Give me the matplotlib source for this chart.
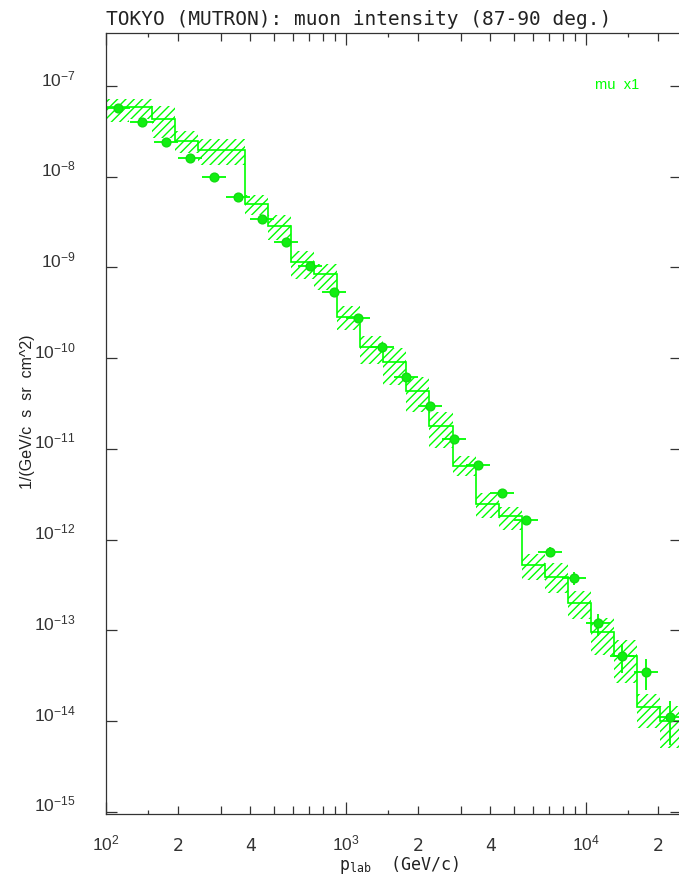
import numpy as np
import matplotlib
matplotlib.use("Agg")
import matplotlib.pyplot as plt
from matplotlib.ticker import NullLocator

plt.rcParams['mathtext.fontset'] = 'custom'
plt.rcParams['mathtext.rm'] = 'Liberation Sans'
plt.rcParams['mathtext.it'] = 'Liberation Sans:italic'
plt.rcParams['mathtext.bf'] = 'Liberation Sans:bold'
plt.rcParams['hatch.linewidth'] = 1.0

GREEN = '#00ff00'
INK = '#333333'

# measured points: momentum bins (GeV/c), bin centres, intensity, relative error
p_edges = [100, 125.9, 158.5, 199.5, 251.2, 316.2, 398.1, 501.2, 631.0, 794.3,
           1000, 1259, 1585, 1995, 2512, 3162, 3981, 5012, 6310, 7943,
           10000, 12589, 15849, 19953, 25119]
p_mid = [112.2, 141.3, 177.8, 223.9, 281.8, 354.8, 446.7, 562.3, 707.9, 891.3,
         1122, 1413, 1778, 2239, 2818, 3548, 4467, 5623, 7079, 8913,
         11220, 14125, 17783, 22387]
intensity = [5.77e-8, 4.04e-8, 2.43e-8, 1.61e-8, 1.0e-8, 5.93e-9, 3.39e-9, 1.89e-9,
             1.04e-9, 5.35e-10, 2.75e-10, 1.32e-10, 6.24e-11, 2.96e-11, 1.28e-11,
             6.62e-12, 3.28e-12, 1.64e-12, 7.34e-13, 3.79e-13, 1.19e-13, 5.2e-14,
             3.49e-14, 1.10e-14]
rel_err = [0.05, 0.05, 0.05, 0.05, 0.05, 0.05, 0.05, 0.05, 0.05, 0.05, 0.05, 0.05,
           0.05, 0.05, 0.05, 0.05, 0.05, 0.08, 0.12, 0.16, 0.27, 0.35, 0.37, 0.5]

# model histogram with uncertainty band
h_edges = [100, 124.8, 155.8, 194.4, 242.7, 302.9, 378.1, 471.9, 589.0, 735.1,
           917.6, 1145, 1429, 1784, 2227, 2779, 3469, 4330, 5404, 6745,
           8419, 10508, 13115, 16370, 20432, 25502]
h_val = [5.92e-8, 5.92e-8, 4.30e-8, 2.49e-8, 1.97e-8, 1.97e-8, 5.0e-9, 2.88e-9,
         1.14e-9, 8.39e-10, 2.86e-10, 1.32e-10, 8.99e-11, 4.34e-11, 1.80e-11,
         6.52e-12, 2.46e-12, 1.82e-12, 5.24e-13, 3.89e-13, 2.0e-13, 9.62e-14,
         5.15e-14, 1.41e-14, 1.00e-14]
h_hi = [7.13e-8, 7.19e-8, 6.02e-8, 3.19e-8, 2.58e-8, 2.58e-8, 6.28e-9, 3.78e-9,
        1.52e-9, 1.09e-9, 3.75e-10, 1.74e-10, 1.29e-10, 6.24e-11, 2.56e-11,
        8.34e-12, 3.26e-12, 2.30e-12, 6.92e-13, 5.51e-13, 2.70e-13, 1.36e-13,
        7.80e-14, 1.98e-14, 1.46e-14]
h_lo = [4.04e-8, 4.33e-8, 2.65e-8, 1.81e-8, 1.35e-8, 1.35e-8, 3.78e-9, 2.0e-9,
        7.45e-10, 5.63e-10, 2.04e-10, 8.61e-11, 5.05e-11, 2.56e-11, 1.01e-11,
        5.01e-12, 1.73e-12, 1.27e-12, 3.57e-13, 2.57e-13, 1.32e-13, 5.32e-14,
        2.62e-14, 8.36e-15, 5.02e-15]

x_major = [100, 1000, 10000]
x_major_labels = ['$10^2$', '$10^3$', '$10^4$']
x_minor = [150, 200, 300, 400, 500, 600, 700, 800, 900,
           1500, 2000, 3000, 4000, 5000, 6000, 7000, 8000, 9000,
           15000, 20000]
x_minor_labels = ['', '2', '', '4', '', '', '', '', '',
                  '', '2', '', '4', '', '', '', '', '',
                  '', '2']
y_major = [1e-15, 1e-14, 1e-13, 1e-12, 1e-11, 1e-10, 1e-9, 1e-8, 1e-7]
y_major_labels = ['$10^{-15}$', '$10^{-14}$', '$10^{-13}$', '$10^{-12}$', '$10^{-11}$',
                  '$10^{-10}$', '$10^{-9}$', '$10^{-8}$', '$10^{-7}$']

fig = plt.figure(figsize=(6.79, 8.86), dpi=100)
ax = fig.add_axes([106/679, 72/886, 575/679, 781/886])
ax.set_xscale('log')
ax.set_yscale('log')

# band + histogram
ax.stairs(h_hi, h_edges, baseline=h_lo, fill=True, facecolor='none',
          edgecolor=GREEN, hatch='////', linewidth=0)
ax.stairs(h_val, h_edges, baseline=None, color=GREEN, linewidth=1.2)

# data points
mid = np.array(p_mid)
edges = np.array(p_edges)
y = np.array(intensity)
xerr = [mid - edges[:-1], edges[1:] - mid]
ax.errorbar(mid, y, xerr=xerr, yerr=y * np.array(rel_err), fmt='o', color=GREEN,
            mfc='#11ee11', mec='#11dd11', ms=6.3, elinewidth=1.3, capsize=0)

ax.set_xlim(100, 24880)
ax.set_ylim(9.43e-16, 3.84e-7)

for s in ax.spines.values():
    s.set_color(INK)
    s.set_linewidth(0.9)

ax.set_xticks(x_major)
ax.set_xticklabels(x_major_labels, va='baseline', fontsize=12.5, color=INK)
ax.set_xticks(x_minor, minor=True)
ax.set_xticklabels(x_minor_labels, minor=True, va='baseline', fontsize=12.5, color=INK)
ax.set_yticks(y_major)
ax.set_yticklabels(y_major_labels, va='baseline', fontsize=12.5, color=INK)
ax.yaxis.set_minor_locator(NullLocator())

ax.tick_params(axis='x', which='both', direction='in', top=True, bottom=True,
               color=INK, pad=26.5, width=0.9)
ax.tick_params(axis='x', which='major', length=8.6)
ax.tick_params(axis='x', which='minor', length=5.8)
ax.tick_params(axis='y', which='major', direction='in', left=True, right=True,
               length=7.9, color=INK, pad=22, width=0.9)

for t, pos in zip(ax.xaxis.get_minor_ticks(), x_minor):
    if str(pos).startswith('15'):
        t.tick1line.set_markersize(2.9)
        t.tick2line.set_markersize(2.9)

fig.text(106/679, 1 - 25/886, 'TOKYO (MUTRON): muon intensity (87-90 deg.)',
         family='DejaVu Sans Mono', fontsize=14, color='#222222', va='baseline')

ax.set_xlabel(r'p$_{\mathregular{lab}}$  (GeV/c)', family='DejaVu Sans Mono',
              fontsize=12, color='#222222', va='baseline')
ax.xaxis.set_label_coords(0.51, -0.0717)
ax.set_ylabel('1/(GeV/c  s  sr  cm^2)', family='Liberation Sans', fontsize=11.5,
              color='#222222', va='center')
ax.yaxis.set_label_coords(-0.136, 0.515)

ax.text(0.85, 0.933, 'mu  x1', transform=ax.transAxes, color=GREEN,
        family='Liberation Sans', fontsize=10.5, va='center')

fig.savefig('out.png', dpi=100)
